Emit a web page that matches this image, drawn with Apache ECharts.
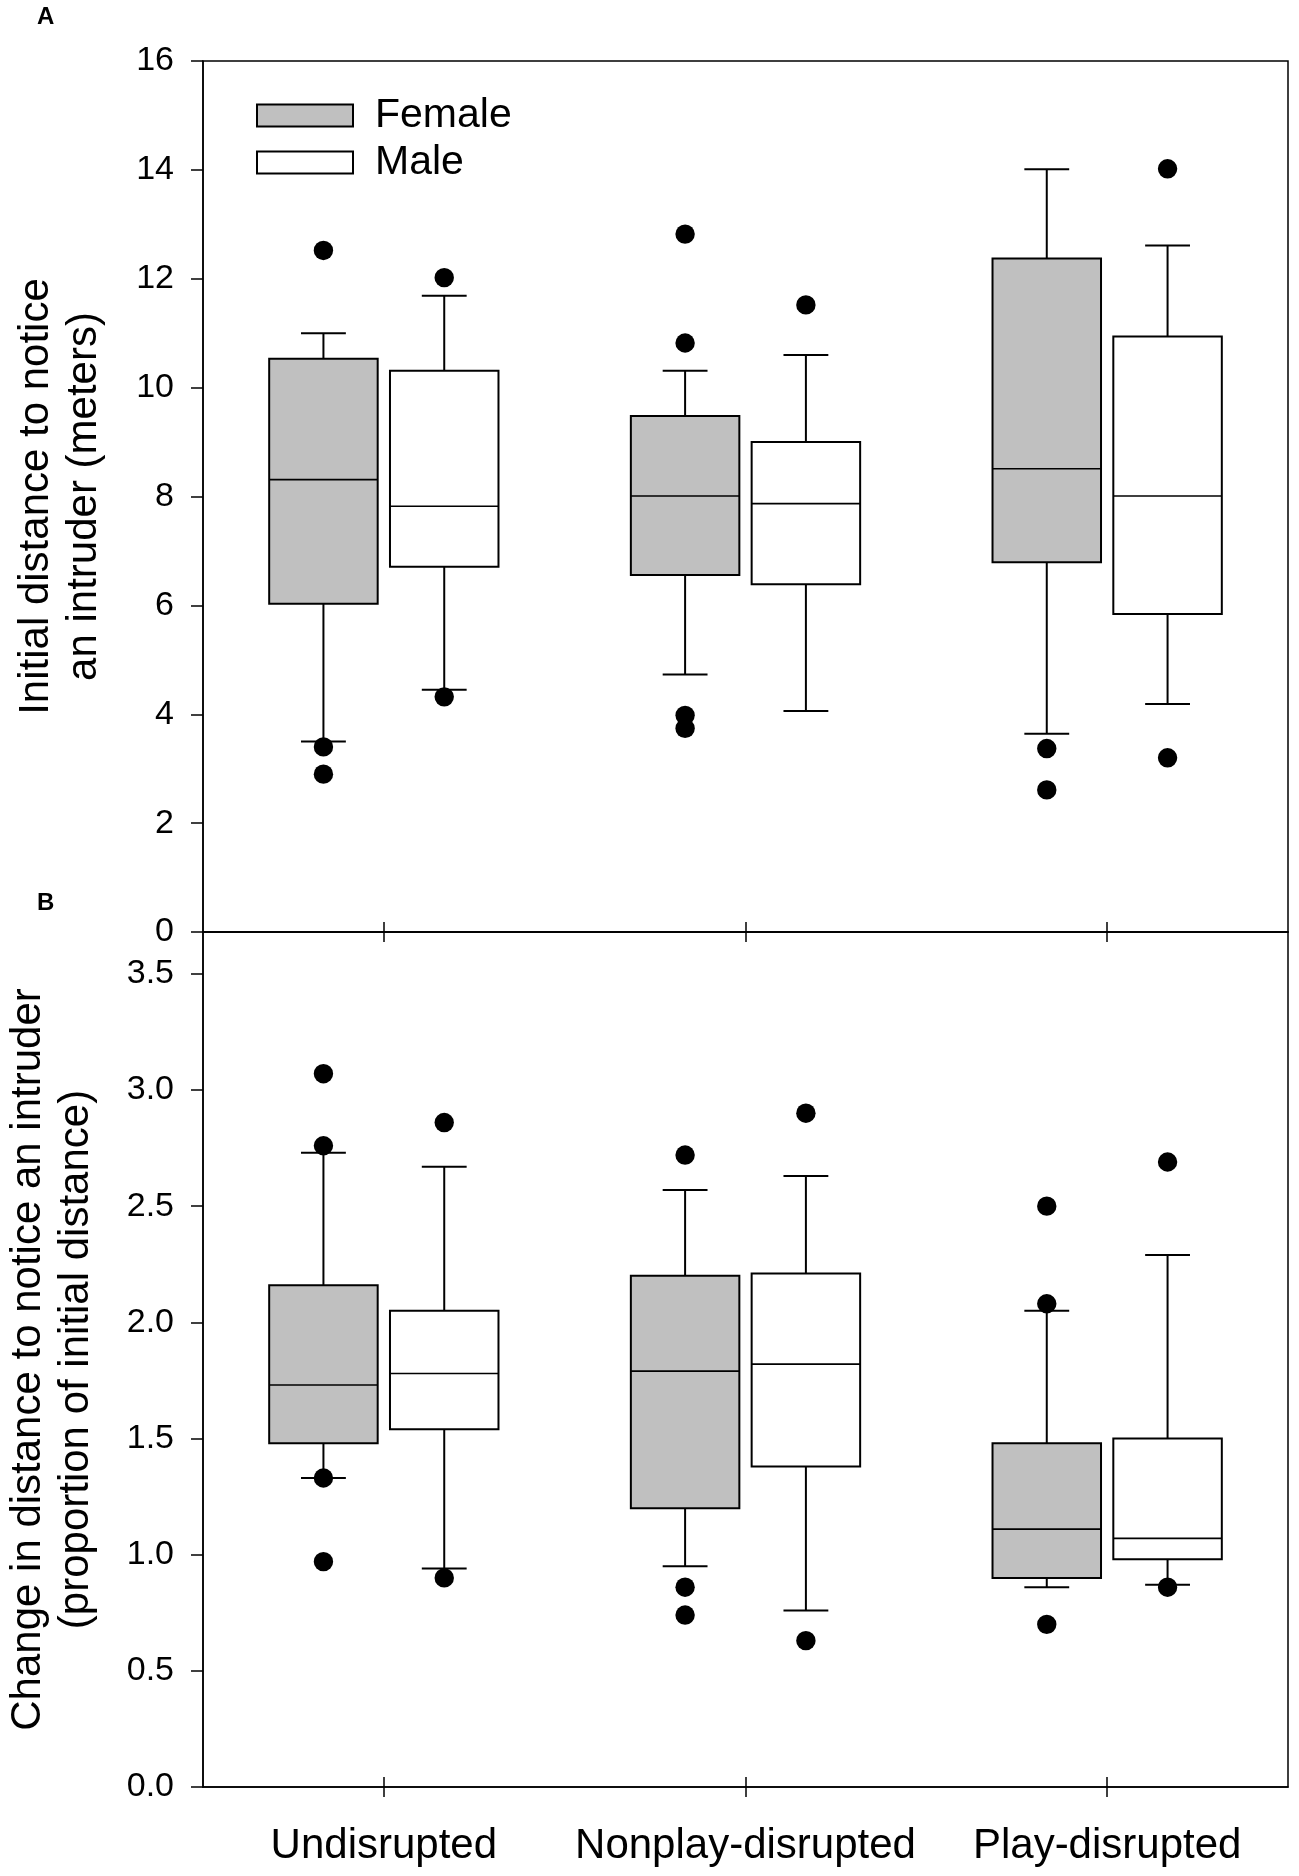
<!DOCTYPE html>
<html>
<head>
<meta charset="utf-8">
<script src="https://cdn.jsdelivr.net/npm/echarts@6/dist/echarts.min.js"></script>
<style>
  html, body { margin: 0; padding: 0; background: #fff; }
  #chart { width: 1299px; height: 1876px; }
</style>
</head>
<body>
<div id="chart"></div>
<script>
var categories = ['Undisrupted', 'Nonplay-disrupted', 'Play-disrupted'];

// [lower whisker, Q1, median, Q3, upper whisker]
var femaleA = [
  [3.50, 6.03, 8.31, 10.53, 11.00],
  [4.73, 6.56, 8.01, 9.48, 10.31],
  [3.64, 6.79, 8.51, 12.37, 14.01]
];
var maleA = [
  [4.45, 6.71, 7.82, 10.31, 11.69],
  [4.06, 6.39, 7.87, 9.00, 10.60],
  [4.19, 5.84, 8.01, 10.94, 12.61]
];
var femaleOutA = [[0, 12.52], [0, 3.40], [0, 2.90], [1, 12.82], [1, 10.82], [1, 3.98], [1, 3.74], [2, 3.37], [2, 2.61]];
var maleOutA = [[0, 12.02], [0, 4.32], [1, 11.52], [2, 14.02], [2, 3.20]];

var femaleB = [
  [1.33, 1.48, 1.73, 2.16, 2.73],
  [0.95, 1.20, 1.79, 2.20, 2.57],
  [0.86, 0.90, 1.11, 1.48, 2.05]
];
var maleB = [
  [0.94, 1.54, 1.78, 2.05, 2.67],
  [0.76, 1.38, 1.82, 2.21, 2.63],
  [0.87, 0.98, 1.07, 1.50, 2.29]
];
var femaleOutB = [[0, 3.07], [0, 2.76], [0, 1.33], [0, 0.97], [1, 2.72], [1, 0.86], [1, 0.74], [2, 2.50], [2, 2.08], [2, 0.70]];
var maleOutB = [[0, 2.86], [0, 0.90], [1, 2.90], [1, 0.63], [2, 2.69], [2, 0.86]];

var yTicksA = { min: 0, max: 16, interval: 2 };
var yTicksB = { min: 0, max: 3.68, interval: 0.5 };

var FONT = 'Liberation Sans, Arial, sans-serif';
var FEMALE_FILL = '#c0c0c0';
var MALE_FILL = '#ffffff';
var GRID_H = [871, 855];

function withIndex(rows) {
  return rows.map(function (r, i) { return [i].concat(r); });
}

function boxRenderer(offset, fill) {
  return function (params, api) {
    var i = api.value(0);
    var band = api.size([1, 0])[0];
    var lo = api.coord([i, api.value(1)]);
    var q1 = api.coord([i, api.value(2)]);
    var md = api.coord([i, api.value(3)]);
    var q3 = api.coord([i, api.value(4)]);
    var hi = api.coord([i, api.value(5)]);
    var cx = lo[0] + offset * band;
    var hw = 0.15 * band;
    var cap = 0.062 * band;
    var ls = { stroke: '#000', lineWidth: 2 };
    return {
      type: 'group',
      children: [
        { type: 'line', shape: { x1: cx, y1: q3[1], x2: cx, y2: hi[1] }, style: ls },
        { type: 'line', shape: { x1: cx, y1: q1[1], x2: cx, y2: lo[1] }, style: ls },
        { type: 'line', shape: { x1: cx - cap, y1: hi[1], x2: cx + cap, y2: hi[1] }, style: ls },
        { type: 'line', shape: { x1: cx - cap, y1: lo[1], x2: cx + cap, y2: lo[1] }, style: ls },
        { type: 'rect', shape: { x: cx - hw, y: q3[1], width: 2 * hw, height: q1[1] - q3[1] },
          style: { fill: fill, stroke: '#000', lineWidth: 2 } },
        { type: 'line', shape: { x1: cx - hw, y1: md[1], x2: cx + hw, y2: md[1] }, style: { stroke: '#000', lineWidth: 1.6 } }
      ]
    };
  };
}

function dotRenderer(offset) {
  return function (params, api) {
    var i = api.value(0);
    var band = api.size([1, 0])[0];
    var p = api.coord([i, api.value(1)]);
    return {
      type: 'circle',
      shape: { cx: p[0] + offset * band, cy: p[1], r: 9.7 },
      style: { fill: '#000' }
    };
  };
}

// main bottom axis with outward ticks, plus a top axis shifted down onto the
// bottom edge so its outward ticks point up: together the ticks cross the line
function xAxes(gridIndex, showLabels) {
  var base = { type: 'category', data: categories, gridIndex: gridIndex, boundaryGap: true };
  var tick = { show: true, alignWithLabel: true, inside: false, length: 10, lineStyle: { color: '#000', width: 1.5 } };
  return [
    Object.assign({}, base, {
      position: 'bottom',
      axisLine: { show: true, lineStyle: { color: '#000', width: 1.5 } },
      axisTick: tick,
      axisLabel: { show: showLabels, interval: 0, color: '#000', fontFamily: FONT, fontSize: 42, margin: 38 }
    }),
    Object.assign({}, base, {
      position: 'top', offset: -GRID_H[gridIndex],
      axisLine: { show: false },
      axisTick: tick,
      axisLabel: { show: false }
    })
  ];
}

function yAxis(gridIndex, ticks, name, gap, fmt) {
  return {
    type: 'value', gridIndex: gridIndex,
    min: ticks.min, max: ticks.max, interval: ticks.interval,
    name: name, nameLocation: 'middle', nameRotate: 90, nameGap: gap,
    nameTextStyle: { color: '#000', fontFamily: FONT, fontSize: 42, lineHeight: 48 },
    splitLine: { show: false },
    axisLine: { show: true, lineStyle: { color: '#000', width: 1.5 } },
    axisTick: { show: true, inside: false, length: 12, lineStyle: { color: '#000', width: 1.5 } },
    axisLabel: { color: '#000', fontFamily: FONT, fontSize: 34, margin: 29, formatter: fmt }
  };
}

function panelSeries(xIdx, yIdx, fem, mal, femOut, malOut) {
  return [
    { name: 'Female', type: 'custom', xAxisIndex: xIdx, yAxisIndex: yIdx, itemStyle: { color: FEMALE_FILL },
      renderItem: boxRenderer(-0.167, FEMALE_FILL), data: withIndex(fem), z: 2 },
    { name: 'Male', type: 'custom', xAxisIndex: xIdx, yAxisIndex: yIdx, itemStyle: { color: MALE_FILL },
      renderItem: boxRenderer(0.167, MALE_FILL), data: withIndex(mal), z: 2 },
    { name: 'Female', type: 'custom', xAxisIndex: xIdx, yAxisIndex: yIdx, itemStyle: { color: FEMALE_FILL },
      renderItem: dotRenderer(-0.167), data: femOut, z: 3 },
    { name: 'Male', type: 'custom', xAxisIndex: xIdx, yAxisIndex: yIdx, itemStyle: { color: MALE_FILL },
      renderItem: dotRenderer(0.167), data: malOut, z: 3 }
  ];
}

var chart = echarts.init(document.getElementById('chart'), null, { renderer: 'canvas' });

chart.setOption({
  animation: false,
  backgroundColor: '#fff',
  grid: [
    { left: 203, right: 11, top: 61, height: GRID_H[0], show: true, borderColor: '#000', borderWidth: 1.5,
      containLabel: false, outerBoundsMode: 'none' },
    { left: 203, right: 11, top: 932, height: GRID_H[1], show: true, borderColor: '#000', borderWidth: 1.5,
      containLabel: false, outerBoundsMode: 'none' }
  ],
  legend: {
    orient: 'vertical', left: 251, top: 87, itemWidth: 96, itemHeight: 22, itemGap: 0,
    selectedMode: false,
    textStyle: { color: '#000', fontFamily: FONT, fontSize: 41, lineHeight: 40, padding: [7, 0, 0, 17] },
    data: [
      { name: 'Female', icon: 'rect', itemStyle: { color: FEMALE_FILL, borderColor: '#000', borderWidth: 2 } },
      { name: 'Male', icon: 'rect', itemStyle: { color: MALE_FILL, borderColor: '#000', borderWidth: 2 } }
    ]
  },
  graphic: [
    { type: 'text', left: 37, top: 5, style: { text: 'A', fill: '#000', font: 'bold 24px ' + FONT } },
    { type: 'text', left: 37, top: 891, style: { text: 'B', fill: '#000', font: 'bold 24px ' + FONT } }
  ],
  xAxis: xAxes(0, false).concat(xAxes(1, true)),
  yAxis: [
    yAxis(0, yTicksA, 'Initial distance to notice\nan intruder (meters)', 95, function (v) { return String(v); }),
    yAxis(1, yTicksB, 'Change in distance to notice an intruder\n(proportion of initial distance)', 103,
      function (v) { return v > 3.6 ? '' : v.toFixed(1); })
  ],
  series: panelSeries(0, 0, femaleA, maleA, femaleOutA, maleOutA)
    .concat(panelSeries(2, 1, femaleB, maleB, femaleOutB, maleOutB))
});
</script>
</body>
</html>
